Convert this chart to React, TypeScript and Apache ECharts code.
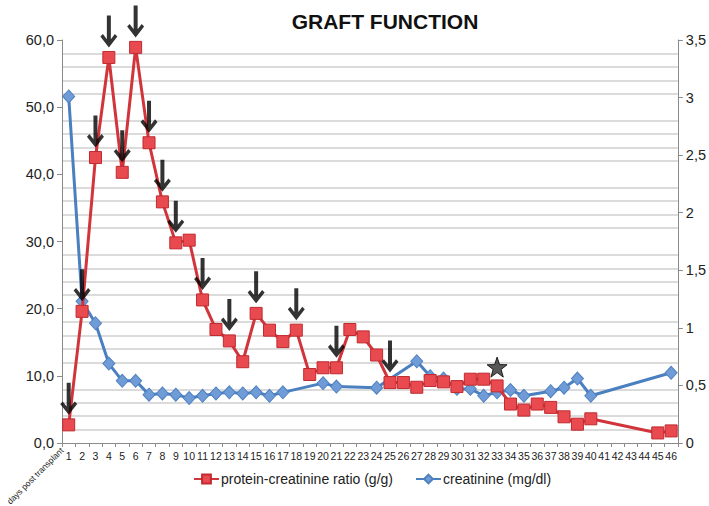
import React, { useEffect, useRef } from "react";
import * as echarts from "echarts";

const days = [
  "1","2","3","4","5","6","7","8","9","10","11","12","13","14","15","16","17","18","19","20","21","22","23",
  "24","25","26","27","28","29","30","31","32","33","34","35","36","37","38","39","40","41","42","43","44","45","46",
];

const proteinRatio: (number | null)[] = [
  2.7, 19.6, 42.5, 57.4, 40.3, 58.9, 44.7, 35.9, 29.8, 30.2,
  21.3, 16.9, 15.2, 12.1, 19.3, 16.8, 15.1, 16.8, 10.2, 11.2,
  11.2, 16.9, 15.8, 13.1, 9.0, 9.0, 8.3, 9.3, 9.1, 8.4,
  9.5, 9.5, 8.5, 5.8, 4.9, 5.8, 5.3, 3.9, 2.8, 3.6,
  null, null, null, null, 1.5, 1.8,
];

const creatinine: (number | null)[] = [
  3.01, 1.23, 1.04, 0.69, 0.54, 0.54, 0.42, 0.43, 0.42, 0.39,
  0.41, 0.43, 0.44, 0.43, 0.44, 0.41, 0.44, null, null, 0.52,
  0.49, null, null, 0.48, null, null, 0.71, 0.58, 0.56, 0.47,
  0.47, 0.41, 0.44, 0.46, 0.41, null, 0.45, 0.48, 0.56, 0.41,
  null, null, null, null, null, 0.61,
];

const arrowDays = [1, 2, 3, 4, 5, 6, 7, 8, 9, 11, 13, 15, 18, 21, 25];
const starDay = 33;
const starValue = 11.3;

const leftTicks = { min: 0, max: 60, interval: 10 };
const rightTicks = { min: 0, max: 3.5, interval: 0.5 };

const FONT = "Liberation Sans, Arial, Helvetica, sans-serif";

const ARROW =
  "path://M6.5,0 L10.5,0 L10.5,23 L14.5,18 L17,20.5 L8.5,31 L0,20.5 L2.5,18 L6.5,23 Z";
const STAR =
  "path://M10,0 L12.35,6.76 L19.51,6.91 L13.8,11.24 L15.88,18.09 L10,14 L4.12,18.09 L6.2,11.24 L0.49,6.91 L7.65,6.76 Z";

export default function App() {
  const ref = useRef<HTMLDivElement>(null);

  useEffect(() => {
    if (!ref.current) return;
    const chart = echarts.init(ref.current, undefined, { renderer: "svg" });

    const arrowData = arrowDays.map((d) => [days[d - 1], proteinRatio[d - 1]]);
    const starData = [[days[starDay - 1], starValue]];

    chart.setOption({
      animation: false,
      backgroundColor: "#ffffff",
      textStyle: { fontFamily: FONT },
      title: {
        text: "GRAFT FUNCTION",
        left: 380,
        textAlign: "center",
        top: 6,
        textStyle: { fontSize: 21, fontWeight: "bold", color: "#111", fontFamily: FONT },
      },
      legend: {
        data: ["protein-creatinine ratio (g/g)", "creatinine (mg/dl)"],
        left: 188,
        top: 467,
        width: 420,
        itemWidth: 25,
        itemHeight: 11,
        itemGap: 22,
        textStyle: { fontSize: 14, color: "#222", fontFamily: FONT, padding: [0, 0, 0, -3] },
      },
      grid: { left: 62, right: 31, top: 40, bottom: 63, containLabel: false },
      xAxis: {
        type: "category",
        data: days,
        boundaryGap: true,
        axisLine: { lineStyle: { color: "#8a8a8a", width: 1 } },
        axisTick: { show: true, length: 4, lineStyle: { color: "#8a8a8a" } },
        axisLabel: { fontSize: 10.5, color: "#222", interval: 0, margin: 7, fontFamily: FONT },
        splitLine: { show: false },
      },
      yAxis: [
        {
          type: "value",
          min: leftTicks.min,
          max: leftTicks.max,
          interval: leftTicks.interval,
          position: "left",
          axisLine: { show: true, lineStyle: { color: "#8a8a8a" } },
          axisTick: { show: true, length: 5, lineStyle: { color: "#8a8a8a" } },
          axisLabel: {
            fontSize: 14.5,
            color: "#222",
            margin: 8,
            fontFamily: FONT,
            formatter: (v: number) => v.toFixed(1).replace(".", ","),
          },
          splitLine: { show: false },
          minorTick: { show: false, splitNumber: 5 },
          minorSplitLine: { show: true, lineStyle: { color: "#cfcfcf", width: 1.5 } },
        },
        {
          type: "value",
          min: rightTicks.min,
          max: rightTicks.max,
          interval: rightTicks.interval,
          position: "right",
          axisLine: { show: true, lineStyle: { color: "#8a8a8a" } },
          axisTick: { show: true, length: 5, lineStyle: { color: "#8a8a8a" } },
          axisLabel: {
            fontSize: 14.5,
            color: "#222",
            margin: 8,
            fontFamily: FONT,
            formatter: (v: number) => String(v).replace(".", ","),
          },
          splitLine: { show: false },
        },
      ],
      series: [
        {
          name: "creatinine (mg/dl)",
          type: "line",
          yAxisIndex: 1,
          data: creatinine,
          connectNulls: true,
          symbol: "diamond",
          symbolSize: [12, 13],
          lineStyle: { color: "#4a7fc0", width: 3 },
          itemStyle: { color: "#6f9bd6", borderColor: "#4f80c0", borderWidth: 1 },
          z: 2,
        },
        {
          name: "protein-creatinine ratio (g/g)",
          type: "line",
          yAxisIndex: 0,
          data: proteinRatio,
          connectNulls: true,
          symbol: "rect",
          symbolSize: 12,
          lineStyle: { color: "#d1353b", width: 3 },
          itemStyle: { color: "#e84a4f", borderColor: "#c02a30", borderWidth: 1 },
          z: 3,
        },
        {
          name: "arrows",
          type: "scatter",
          yAxisIndex: 0,
          data: arrowData,
          symbol: ARROW,
          symbolSize: [17, 32],
          symbolOffset: [0, -26],
          itemStyle: { color: "#000000" },
          silent: true,
          z: 5,
        },
        {
          name: "star",
          type: "scatter",
          yAxisIndex: 0,
          data: starData,
          symbol: STAR,
          symbolSize: 20,
          itemStyle: { color: "#2e2e2e", borderColor: "#000", borderWidth: 1 },
          silent: true,
          z: 5,
        },
      ],
      graphic: [
        {
          type: "text",
          x: 62,
          y: 449,
          rotation: Math.PI / 4,
          style: {
            text: "days post transplant",
            fontSize: 8.5,
            fill: "#222",
            fontFamily: FONT,
            align: "right",
            verticalAlign: "middle",
          },
        },
      ],
    });

    return () => chart.dispose();
  }, []);

  return (
    <div
      ref={ref}
      style={{ position: "fixed", left: 0, top: 0, width: 709, height: 506 }}
    />
  );
}
